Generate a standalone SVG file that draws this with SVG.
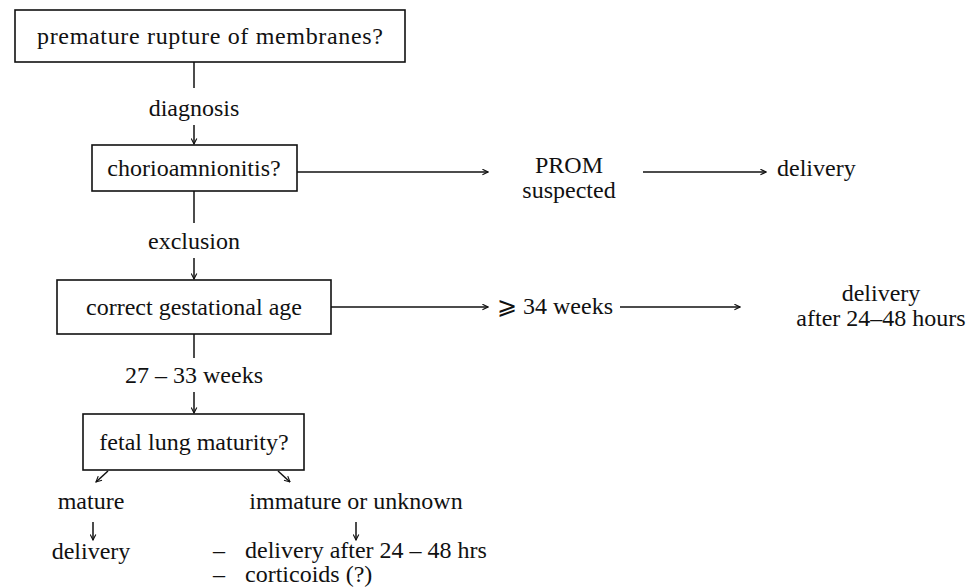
<svg xmlns="http://www.w3.org/2000/svg" width="970" height="588" viewBox="0 0 970 588">
<style>
text{font-family:"Liberation Serif","Times New Roman",serif;font-size:24px;fill:#111}
.c{text-anchor:middle}
.box{fill:#fff;stroke:#111;stroke-width:1.6}
.ln{fill:none;stroke:#111;stroke-width:1.5}
.ar{fill:none;stroke:#111;stroke-width:1.5;marker-end:url(#ah)}
</style>
<defs>
<marker id="ah" viewBox="0 0 10 10" refX="9" refY="5" markerWidth="7" markerHeight="7" markerUnits="userSpaceOnUse" orient="auto">
<path d="M1,1 L9,5 L1,9" fill="none" stroke="#111" stroke-width="1.6"/>
</marker>
</defs>
<rect width="970" height="588" fill="#fff"/>
<g id="connectors">
<line class="ln" x1="194" y1="62" x2="194" y2="88"/>
<line class="ar" x1="194" y1="125" x2="194" y2="144"/>
<line class="ar" x1="297" y1="172" x2="488" y2="172"/>
<line class="ar" x1="643" y1="172" x2="766" y2="172"/>
<line class="ln" x1="194" y1="191" x2="194" y2="223"/>
<line class="ar" x1="194" y1="258" x2="194" y2="279"/>
<line class="ar" x1="331" y1="307" x2="488" y2="307"/>
<line class="ar" x1="620" y1="307" x2="740" y2="307"/>
<line class="ln" x1="194" y1="334" x2="194" y2="358"/>
<line class="ar" x1="194" y1="392" x2="194" y2="413"/>
<line class="ar" x1="108" y1="471" x2="96" y2="482"/>
<line class="ar" x1="278" y1="471" x2="290" y2="482"/>
<line class="ar" x1="93" y1="522" x2="93" y2="540"/>
<line class="ar" x1="356" y1="522" x2="356" y2="540"/>
</g>
<g id="n1"><rect class="box" x="15" y="10" width="390" height="52"/><text class="c" x="210" y="44" textLength="346" lengthAdjust="spacing">premature rupture of membranes?</text></g>
<g id="l-diagnosis"><text class="c" x="194" y="116">diagnosis</text></g>
<g id="n2"><rect class="box" x="92" y="145" width="205" height="46"/><text class="c" x="194" y="176">chorioamnionitis?</text></g>
<g id="n-prom"><text class="c" x="569" y="173">PROM</text><text class="c" x="569" y="198">suspected</text></g>
<g id="n-delivery1"><text x="777" y="176">delivery</text></g>
<g id="l-exclusion"><text class="c" x="194" y="249">exclusion</text></g>
<g id="n3"><rect class="box" x="57" y="280" width="274" height="54"/><text class="c" x="194" y="315">correct gestational age</text></g>
<g id="n-34"><text x="497" y="314">⩾ 34 weeks</text></g>
<g id="n-delivery2"><text class="c" x="881" y="301">delivery</text><text class="c" x="881" y="326">after 24–48 hours</text></g>
<g id="l-2733"><text class="c" x="194" y="383">27 – 33 weeks</text></g>
<g id="n4"><rect class="box" x="83" y="414" width="221" height="56"/><text class="c" x="194" y="450">fetal lung maturity?</text></g>
<g id="n-mature"><text class="c" x="91" y="509">mature</text></g>
<g id="n-delivery3"><text class="c" x="91" y="559">delivery</text></g>
<g id="n-immature"><text class="c" x="356" y="509">immature or unknown</text></g>
<g id="n-options"><text x="213" y="558">–<tspan x="245">delivery after 24 – 48 hrs</tspan></text><text x="213" y="582">–<tspan x="245">corticoids (?)</tspan></text></g>
</svg>
